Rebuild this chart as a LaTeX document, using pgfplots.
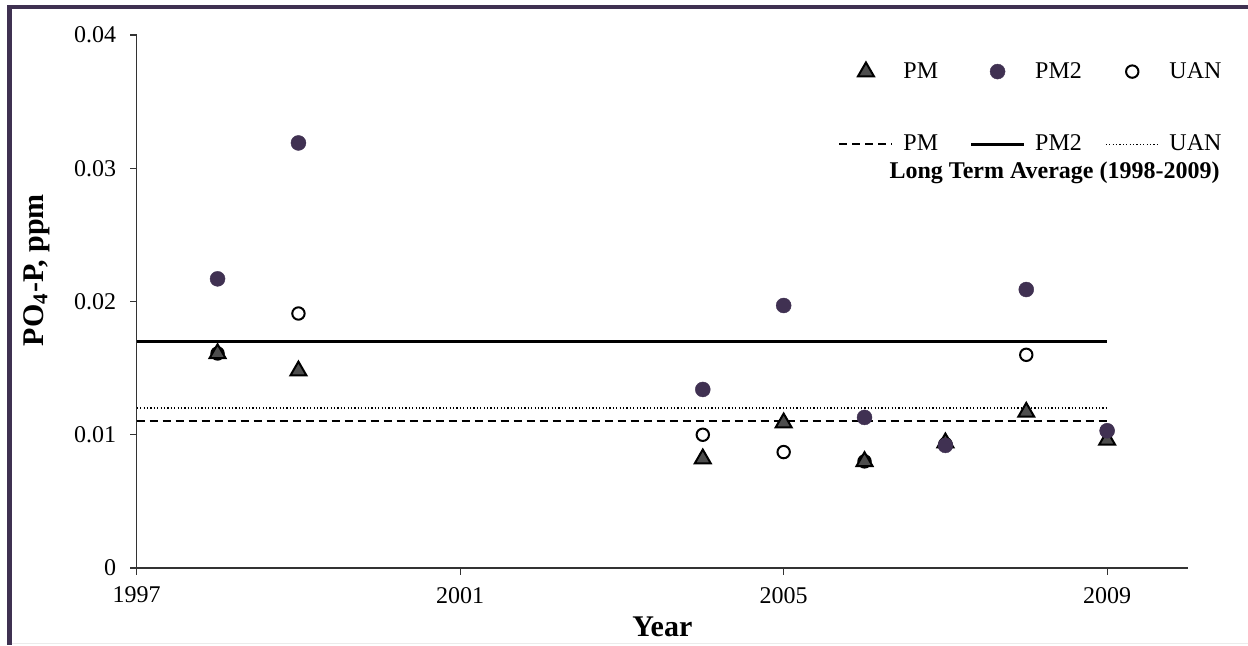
\documentclass[border=0pt]{standalone}
\usepackage{fontspec}
\setmainfont{Liberation Serif}
\usepackage{pgfplots}
\pgfplotsset{compat=1.18}
\definecolor{frame}{HTML}{3F3151}
\definecolor{pmtwo}{HTML}{403152}
\definecolor{pmfill}{HTML}{4D4D4D}
\tikzset{
 pmM/.style={mark=triangle*, mark size=4.6pt, mark options={fill=pmfill, draw=black, line width=1pt, solid}},
 pm2M/.style={mark=*, mark size=3.75pt, mark options={fill=pmtwo, draw=pmtwo, line width=0.2pt, solid}},
 uanM/.style={mark=*, mark size=3.1pt, mark options={fill=white, draw=black, line width=1pt, solid}},
 pmL/.style={black, line width=1pt, dash pattern=on 4pt off 2.5pt},
 pm2L/.style={black, line width=1.1pt},
 uanL/.style={black, line width=0.7pt, dash pattern=on 0.6pt off 1.1pt},
}
\pgfplotsset{
 base/.style={at={(68.35pt,38.5pt)}, anchor=south west, scale only axis, width=525.65pt, height=266.5pt, xmin=1997, xmax=2010, ymin=0, ymax=0.04, clip=false},
 legax/.style={base, hide axis, legend style={at={(#1,0.863)}, anchor=west, draw=none, fill=none, inner sep=0pt, outer sep=0pt, row sep=27pt, column sep=5pt, nodes={inner sep=0pt}, font=\fontsize{12}{14}\selectfont}, legend cell align=left},
 mleg/.style={legend image code/.code={\path[draw=none,fill=none] (0pt,0pt) -- (26.5pt,0pt); \draw[#1] plot coordinates {(13.25pt,0pt)};}},
 lleg/.style={legend image code/.code={\draw[#1] (0pt,0pt) -- (26.5pt,0pt);}},
}
\pgfplotstableread{
year PM PMtwo UAN
1998 0.0161 0.0217 0.0161
1999 0.0148 0.0319 0.0191
2004 0.0082 0.0134 0.0100
2005 0.0109 0.0197 0.0087
2006 0.0080 0.0113 0.0080
2007 0.0094 0.0092 0.0093
2008 0.0117 0.0209 0.0160
2009 0.0096 0.0103 0.0103
}\datatable
\begin{document}
\begin{tikzpicture}
\useasboundingbox (0pt,0pt) rectangle (624pt,322.5pt);
\fill[frame] (3.65pt,0pt) rectangle (5.85pt,320pt);
\fill[frame] (3.65pt,318pt) rectangle (624pt,320pt);
\draw[black!8, line width=0.5pt] (5.85pt,1pt) -- (624pt,1pt);
\begin{axis}[base,
  axis lines*=left, tick align=outside, major tick length=3.3pt,
  xtick={1997,2001,2005,2009}, xticklabels={1997,2001,2005,2009},
  ytick={0,0.01,0.02,0.03,0.04}, yticklabels={0,0.01,0.02,0.03,0.04},
  scaled y ticks=false,
  tick style={black!80, line width=0.6pt},
  axis line style={black!80, line width=0.6pt},
  ticklabel style={font=\fontsize{12}{14}\selectfont},
  yticklabel style={xshift=-3.5pt}, xticklabel style={yshift=-2.7pt},
  xlabel={Year}, ylabel={PO\textsubscript{4}-P, ppm},
  label style={font=\bfseries\fontsize{15}{17}\selectfont},
  xlabel style={at={(rel axis cs:0.5,-0.111)}, anchor=center},
  ylabel style={at={(rel axis cs:-0.0955,0.559)}, anchor=center}]
\addplot[pmL] coordinates {(1997,0.011) (2009,0.011)};
\addplot[pm2L] coordinates {(1997,0.017) (2009,0.017)};
\addplot[uanL] coordinates {(1997,0.012) (2009,0.012)};
\addplot[only marks, uanM] table[x=year, y=UAN] {\datatable};
\addplot[only marks, pmM] table[x=year, y=PM] {\datatable};
\addplot[only marks, pm2M] table[x=year, y=PMtwo] {\datatable};
\node[anchor=base east, inner sep=0pt, font=\bfseries\fontsize{12}{14}\selectfont] at (rel axis cs:1.0304,0.7317) {Long Term Average (1998-2009)};
\end{axis}
\begin{axis}[legax=0.6675]
\addlegendimage{mleg=pmM}\addlegendentry{PM}
\addlegendimage{lleg=pmL}\addlegendentry{PM}
\end{axis}
\begin{axis}[legax=0.7926]
\addlegendimage{mleg=pm2M}\addlegendentry{PM2}
\addlegendimage{lleg=pm2L}\addlegendentry{PM2}
\end{axis}
\begin{axis}[legax=0.9211]
\addlegendimage{mleg=uanM}\addlegendentry{UAN}
\addlegendimage{lleg=uanL}\addlegendentry{UAN}
\end{axis}
\end{tikzpicture}
\end{document}
